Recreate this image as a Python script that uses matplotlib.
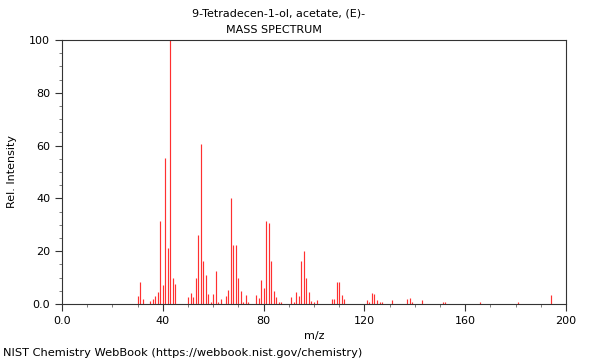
import matplotlib
matplotlib.use("Agg")
import matplotlib.pyplot as plt
from matplotlib.ticker import MultipleLocator, FixedLocator

title_line1 = "9-Tetradecen-1-ol, acetate, (E)-"
title_line2 = "MASS SPECTRUM"
footer = "NIST Chemistry WebBook (https://webbook.nist.gov/chemistry)"

mz = [30, 31, 32, 35, 36, 37, 38, 39, 40, 41, 42, 43, 44, 45,
      50, 51, 52, 53, 54, 55, 56, 57, 58, 59, 60, 61, 62, 63,
      65, 66, 67, 68, 69, 70, 71, 72, 73, 74,
      77, 78, 79, 80, 81, 82, 83, 84, 85, 86, 87,
      91, 92, 93, 94, 95, 96, 97, 98, 99, 100, 101,
      107, 108, 109, 110, 111, 112,
      121, 122, 123, 124, 125, 126, 127, 131,
      137, 138, 139, 143, 151, 152, 166, 181, 194]
intensity = [2.9, 8.2, 1.9, 1.0, 2.0, 2.9, 4.4, 31.3, 7.3, 55.4, 21.4, 100.0, 10.0, 7.4,
             2.8, 4.0, 2.8, 9.9, 26.3, 60.6, 16.3, 10.9, 3.8, 0.8, 3.8, 12.4, 0.8, 1.8,
             3.0, 5.3, 40.0, 22.4, 22.4, 9.9, 4.8, 0.8, 3.3, 0.8,
             3.3, 2.4, 9.0, 6.2, 31.5, 30.5, 16.4, 5.0, 2.7, 0.8, 0.8,
             2.8, 0.9, 4.7, 3.0, 16.4, 19.9, 10.0, 4.7, 1.3, 0.9, 1.4,
             1.9, 1.9, 8.5, 8.5, 3.4, 1.9,
             1.4, 0.9, 4.3, 3.9, 1.4, 0.9, 0.9, 1.4,
             1.9, 2.2, 0.9, 1.4, 0.9, 0.9, 0.9, 0.9, 3.5]

x_ticks = [0, 40, 80, 120, 160, 200]
x_ticklabels = ["0.0", "40", "80", "120", "160", "200"]
y_ticks = [0, 20, 40, 60, 80, 100]
y_ticklabels = ["0.0", "20", "40", "60", "80", "100"]

fig = plt.figure(figsize=(6, 3.6), dpi=100)
ax = fig.add_axes([62/600, 1-304/360, 504/600, 264/360])

ax.vlines(mz, 0, intensity, colors="#ff3030", linewidth=0.85)

ax.set_xlim(0, 200)
ax.set_ylim(0, 100)
ax.xaxis.set_major_locator(FixedLocator(x_ticks))
ax.set_xticklabels(x_ticklabels)
ax.yaxis.set_major_locator(FixedLocator(y_ticks))
ax.set_yticklabels(y_ticklabels)
ax.xaxis.set_minor_locator(MultipleLocator(10))
ax.yaxis.set_minor_locator(MultipleLocator(5))
ax.tick_params(which="major", direction="out", length=5, width=0.8, labelsize=8, color="#333333")
ax.tick_params(which="minor", direction="out", length=2.5, width=0.6, color="#666666")
for s in ax.spines.values():
    s.set_linewidth(0.8)
    s.set_color("#333333")

ax.set_xlabel("m/z", fontsize=8, labelpad=4)
ax.set_ylabel("Rel. Intensity", fontsize=8)
ax.yaxis.set_label_coords(-45/504, 0.5)

fig.text(279/600, 1-14/360, title_line1, ha="center", va="center", fontsize=8)
fig.text(274/600, 1-30/360, title_line2, ha="center", va="center", fontsize=8)
fig.text(3/600, 1-353/360, footer, ha="left", va="center", fontsize=8.2)

fig.savefig("out.png", dpi=100)
